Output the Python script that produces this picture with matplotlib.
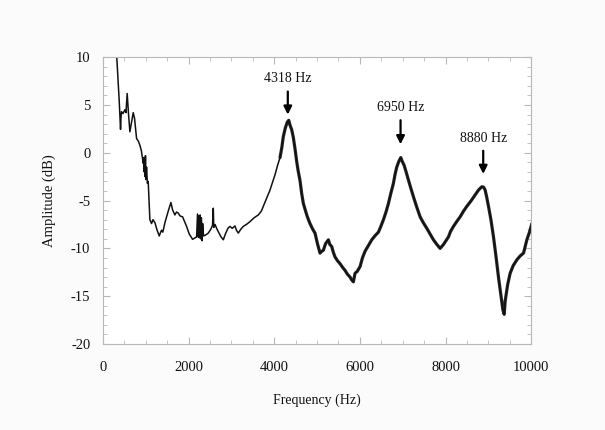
import matplotlib
matplotlib.use("Agg")
import matplotlib.pyplot as plt

# frequency response
freq = [300, 381, 413, 425, 436, 470, 514, 540, 568, 600, 631, 670, 709, 740, 787, 830, 864, 900, 942,
        955, 965, 975, 985, 995, 1005, 1020, 1040, 1059, 1098, 1137, 1170, 1215, 1260, 1316, 1350, 1371,
        1400, 1450, 1520, 1589, 1630, 1682, 1720, 1760, 1800, 1862, 1900, 1955, 2017, 2095, 2150, 2189,
        2210, 2225, 2240, 2255, 2270, 2285, 2300, 2315, 2330, 2350, 2400, 2461, 2520, 2560, 2578, 2590,
        2620, 2656, 2700, 2760, 2812, 2860, 2920, 2967, 3020, 3084, 3120, 3162, 3220, 3278, 3350, 3435,
        3530, 3630, 3700, 3746, 3820, 3902, 3960, 4019, 4080, 4136, 4180, 4213, 4260, 4306, 4340, 4369,
        4410, 4447, 4490, 4525, 4560, 4603, 4640, 4681, 4720, 4760, 4800, 4836, 4900, 4953, 5010, 5070,
        5110, 5148, 5200, 5265, 5300, 5343, 5380, 5421, 5480, 5537, 5600, 5654, 5710, 5771, 5810, 5849,
        5888, 5940, 6005, 6060, 6121, 6200, 6278, 6350, 6433, 6490, 6550, 6610, 6667, 6720, 6783, 6820,
        6861, 6910, 6955, 6990, 7033, 7080, 7134, 7190, 7251, 7330, 7407, 7480, 7563, 7640, 7718, 7800,
        7874, 7951, 8010, 8068, 8120, 8185, 8260, 8341, 8420, 8498, 8600, 8692, 8770, 8848, 8890, 8925,
        8960, 9003, 9060, 9120, 9180, 9236, 9290, 9338, 9370, 9393, 9450, 9509, 9580, 9665, 9740, 9820,
        9860, 9899, 9960, 10016]
amp = [12.0, 5.5, 2.45, 3.8, 4.3, 4.1, 4.5, 4.2, 6.2, 4.0, 2.2, 3.2, 4.2, 3.6, 1.5, 1.2, 0.8, 0.2, -1.1,
       -0.5, -2.0, -0.8, -2.5, -0.3, -2.8, -1.5, -3.2, -3.0, -7.0, -7.4, -7.0, -7.3, -8.0, -8.7, -8.3, -8.1,
       -8.3, -7.3, -6.2, -5.2, -6.0, -6.5, -6.2, -6.3, -6.6, -6.7, -7.1, -7.7, -8.5, -9.05, -8.9, -8.8,
       -6.4, -8.8, -6.6, -8.9, -6.5, -9.0, -6.8, -9.2, -7.4, -8.7, -8.6, -8.4, -8.0, -7.6, -5.8, -7.8,
       -7.5, -7.9, -8.3, -8.8, -9.1, -8.5, -7.9, -7.7, -7.9, -7.65, -8.1, -8.4, -8.0, -7.7, -7.5, -7.2,
       -6.8, -6.5, -6.1, -5.6, -4.8, -3.9, -3.1, -2.3, -1.3, -0.5, 0.6, 1.7, 2.6, 3.2, 3.4, 2.9,
       2.4, 1.6, 0.3, -0.9, -1.9, -2.9, -4.2, -5.3, -5.9, -6.5, -7.0, -7.4, -8.0, -8.4, -9.5, -10.5,
       -10.3, -10.2, -9.5, -9.1, -9.6, -9.8, -10.4, -10.9, -11.3, -11.6, -12.0, -12.3, -12.7, -13.0, -13.3, -13.5,
       -12.6, -12.4, -11.9, -11.0, -10.3, -9.7, -9.1, -8.7, -8.3, -7.7, -7.0, -6.2, -5.3, -4.3, -3.2, -2.3,
       -1.5, -0.9, -0.5, -0.9, -1.3, -2.0, -2.85, -3.7, -4.6, -5.7, -6.7, -7.3, -7.9, -8.5, -9.1, -9.6,
       -10.0, -9.6, -9.2, -8.8, -8.2, -7.7, -7.2, -6.7, -6.1, -5.6, -5.0, -4.4, -3.9, -3.55, -3.6, -3.9,
       -4.6, -5.6, -7.0, -8.8, -10.9, -13.0, -14.8, -16.4, -16.9, -15.5, -13.8, -12.6, -11.8, -11.2, -10.8, -10.5,
       -9.8, -9.1, -8.3, -7.4]

peak_freq = [4318, 6950, 8880]
peak_labels = ["4318 Hz", "6950 Hz", "8880 Hz"]
arrow_tip = [3.7, 0.6, -2.5]
arrow_tail = [6.7, 3.7, 0.5]

plt.rcParams['font.family'] = ['Liberation Serif', 'DejaVu Serif']
plt.rcParams['axes.unicode_minus'] = False

fig = plt.figure(figsize=(6.05, 4.3), dpi=100, facecolor='#fbfbfb')
ax = fig.add_axes([0.170, 0.200, 0.708, 0.667])
ax.set_facecolor('white')

# the measured trace is noisy above ~4 kHz, so it reads as a thicker line there
noisy = [i for i, f in enumerate(freq) if f >= 4100]
ax.plot([freq[i] for i in noisy], [amp[i] for i in noisy], color='#2a2a2a', lw=2.3,
        solid_joinstyle='round', solid_capstyle='round')
ax.plot(freq, amp, color='#111111', lw=1.1)

for f, lab, tip, tail in zip(peak_freq, peak_labels, arrow_tip, arrow_tail):
    ax.annotate("", xy=(f, tip), xytext=(f, tail),
                arrowprops=dict(arrowstyle='-|>', color='black', lw=1.6, mutation_scale=12))
    ax.text(f, tail + 0.35, lab, ha='center', va='bottom', fontsize=10, color='#111111')

ax.set_xlim(0, 10000)
ax.set_ylim(-20, 10)
ax.set_xticks(range(0, 10001, 2000))
ax.set_xticks(range(0, 10001, 500), minor=True)
ax.set_yticks(range(-20, 11, 5))
ax.set_yticks(range(-20, 11, 1), minor=True)

for s in ax.spines.values():
    s.set_color('#b8b8b8')
    s.set_linewidth(0.8)
ax.tick_params(which='both', direction='in', top=True, right=True, color='#b8b8b8')
ax.tick_params(which='major', length=5, labelsize=10.5, labelcolor='#111111')
ax.tick_params(which='minor', length=3)
ax.tick_params(axis='x', pad=12)
ax.tick_params(axis='y', pad=9)

ax.set_xlabel("Frequency (Hz)", fontsize=10, color='#111111', labelpad=14)
ax.set_ylabel("Amplitude (dB)", fontsize=10.5, color='#111111', labelpad=11)

fig.savefig("out.png", dpi=100, facecolor=fig.get_facecolor())
